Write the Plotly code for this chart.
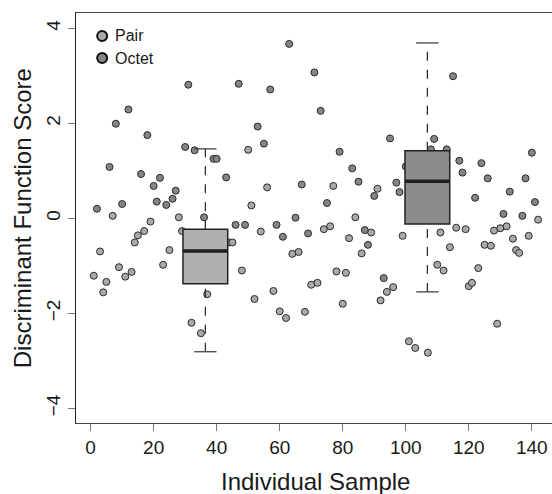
import plotly.graph_objects as go

# Sample index and discriminant score for each individual
sample_idx = [1, 2, 3, 4, 5, 6, 7, 8, 9, 10, 11, 12, 13, 14, 15, 16, 17, 18, 19, 20,
              21, 22, 23, 24, 25, 26, 27, 28, 29, 30, 31, 32, 33, 35, 36, 37, 39, 40, 43, 44,
              45, 46, 47, 48, 49, 50, 51, 52, 53, 54, 55, 56, 57, 58, 59, 60, 61, 62, 63, 64,
              65, 66, 67, 68, 69, 70, 71, 72, 73, 74, 75, 76, 77, 78, 79, 80, 81, 82, 83, 84,
              85, 86, 87, 88, 89, 90, 91, 92, 93, 94, 95, 96, 97, 98, 99, 100, 101, 103, 107, 108,
              109, 110, 111, 112, 113, 114, 115, 116, 117, 118, 119, 120, 121, 122, 123, 124, 125, 126, 127, 128,
              129, 130, 131, 132, 133, 134, 135, 136, 137, 138, 139, 140, 141, 142]
scores = [-1.21, 0.20, -0.70, -1.56, -1.34, 1.08, 0.05, 1.99, -1.03, 0.30, -1.23, 2.29, -1.13, -0.51, -0.36, 0.93, -0.27, 1.75, -0.07, 0.68,
          0.35, 0.85, -0.98, 0.28, -0.67, 0.41, 0.58, 0.02, -0.27, 1.50, 2.81, -2.20, 1.43, -2.42, 0.02, -1.60, 1.25, 1.25, 0.86, -0.51,
          -0.51, -0.14, 2.83, -1.10, -0.14, 1.44, 0.27, -1.70, 1.93, -0.28, 1.57, 0.65, 2.71, -1.53, -0.14, -1.96, -0.39, -2.10, 3.67, -0.75,
          0.01, -0.71, 0.71, -1.97, -0.32, -1.40, 3.07, -1.36, 2.26, -0.23, 0.32, -0.17, 0.68, -1.12, 1.40, -1.80, -1.15, -0.42, 1.05, 0.02,
          0.77, -0.74, -0.25, -0.56, -0.30, 0.47, 0.62, -1.73, -1.26, -1.55, 1.68, -1.45, 0.75, 0.55, -0.37, 1.09, -2.59, -2.73, -2.83, 1.45,
          1.67, -0.98, -0.30, -1.10, 1.45, -0.61, 2.99, -0.20, 1.21, 0.96, -0.23, -1.43, -1.36, 0.43, -1.05, 1.16, -0.56, 0.84, -0.58, -0.26,
          -2.22, -0.21, 0.09, -0.17, 0.56, -0.43, -0.67, -0.73, 0.05, 0.84, -0.37, 1.38, 0.34, -0.03]
# Group of each individual
groups = ["Pair", "Octet", "Pair", "Pair", "Pair", "Octet", "Pair", "Octet", "Pair", "Octet", "Pair", "Octet", "Pair", "Pair", "Pair", "Octet", "Pair", "Octet", "Pair", "Octet",
          "Octet", "Octet", "Pair", "Octet", "Pair", "Octet", "Octet", "Pair", "Pair", "Octet", "Octet", "Pair", "Octet", "Pair", "Octet", "Pair", "Octet", "Octet", "Octet", "Pair",
          "Pair", "Octet", "Octet", "Pair", "Octet", "Pair", "Pair", "Pair", "Octet", "Pair", "Octet", "Pair", "Octet", "Pair", "Octet", "Pair", "Octet", "Pair", "Octet", "Pair",
          "Octet", "Pair", "Octet", "Pair", "Octet", "Pair", "Octet", "Pair", "Octet", "Pair", "Octet", "Pair", "Pair", "Pair", "Octet", "Pair", "Pair", "Pair", "Octet", "Pair",
          "Octet", "Pair", "Octet", "Octet", "Pair", "Octet", "Pair", "Pair", "Octet", "Pair", "Octet", "Pair", "Octet", "Octet", "Pair", "Octet", "Pair", "Pair", "Pair", "Octet",
          "Octet", "Pair", "Pair", "Pair", "Octet", "Pair", "Octet", "Pair", "Octet", "Octet", "Pair", "Pair", "Pair", "Octet", "Pair", "Octet", "Pair", "Octet", "Pair", "Pair",
          "Pair", "Pair", "Octet", "Pair", "Octet", "Pair", "Pair", "Pair", "Octet", "Octet", "Pair", "Octet", "Octet", "Pair"]

# Box summaries per group: position, lower whisker, Q1, median, Q3, upper whisker
box_groups = ["Pair", "Octet"]
box_pos = [36.4, 106.85]
box_low = [-2.81, -1.55]
box_q1 = [-1.38, -0.12]
box_med = [-0.69, 0.78]
box_q3 = [-0.23, 1.42]
box_high = [1.46, 3.69]

x_ticks = [0, 20, 40, 60, 80, 100, 120, 140]
y_ticks = [-4, -2, 0, 2, 4]

fill = {"Pair": "#a9a9a9", "Octet": "#858585"}
box_fill = {"Pair": "#b0b0b0", "Octet": "#8c8c8c"}
FONT = "Liberation Sans, Arial, Helvetica, sans-serif"

fig = go.Figure()

for g in box_groups:
    xs = [x for x, gg in zip(sample_idx, groups) if gg == g]
    ys = [y for y, gg in zip(scores, groups) if gg == g]
    fig.add_trace(go.Scatter(
        x=xs, y=ys, mode="markers", name=g, showlegend=False,
        marker=dict(size=7, color=fill[g], line=dict(color="#2a2a2a", width=1)),
    ))

# boxes drawn over the points
half_w = 7.1
for i, g in enumerate(box_groups):
    c = box_pos[i]
    fig.add_shape(type="line", x0=c, x1=c, y0=box_low[i], y1=box_q1[i],
                  line=dict(color="#222222", width=1.2, dash="dash"))
    fig.add_shape(type="line", x0=c, x1=c, y0=box_q3[i], y1=box_high[i],
                  line=dict(color="#222222", width=1.2, dash="dash"))
    for yv in (box_low[i], box_high[i]):
        fig.add_shape(type="line", x0=c - half_w / 2, x1=c + half_w / 2, y0=yv, y1=yv,
                      line=dict(color="#444444", width=1.3))
    fig.add_shape(type="rect", x0=c - half_w, x1=c + half_w, y0=box_q1[i], y1=box_q3[i],
                  fillcolor=box_fill[g], line=dict(color="#222222", width=1.5))
    fig.add_shape(type="line", x0=c - half_w, x1=c + half_w, y0=box_med[i], y1=box_med[i],
                  line=dict(color="#1e1e1e", width=3.5))

# key in the upper-left corner of the plot
key_top = 0.944
key_step = 0.054
for i, g in enumerate(box_groups):
    yk = key_top - i * key_step
    fig.add_shape(type="circle", xref="paper", yref="paper",
                  xsizemode="pixel", ysizemode="pixel",
                  xanchor=0.055, yanchor=yk, x0=-5, x1=5, y0=-5, y1=5,
                  fillcolor=fill[g], line=dict(color="#111111", width=2))
    fig.add_annotation(text=g, xref="paper", yref="paper", x=0.055, y=yk,
                       xshift=11, xanchor="left", yanchor="middle", showarrow=False,
                       font=dict(family=FONT, size=16, color="#1a1a1a"))

fig.add_annotation(text="Individual Sample", xref="x", yref="paper",
                   x=(-4.64 + 147.64) / 2, y=0, yshift=-58, yanchor="middle",
                   showarrow=False, font=dict(family=FONT, size=24, color="#1a1a1a"))
fig.add_annotation(text="Discriminant Function Score", xref="paper", yref="y",
                   x=0, y=0, xshift=-54, textangle=-90, xanchor="center",
                   showarrow=False, font=dict(family=FONT, size=24, color="#1a1a1a"))

fig.update_layout(
    width=552, height=494,
    margin=dict(l=76, r=0, t=13, b=71),
    paper_bgcolor="white", plot_bgcolor="white",
    font=dict(family=FONT, size=18, color="#1a1a1a"),
    showlegend=False,
    xaxis=dict(range=[-4.64, 146.4], tickvals=x_ticks, showgrid=False, zeroline=False,
               showline=True, linecolor="#444444", linewidth=1.2, mirror=True,
               ticks="outside", ticklen=7, tickcolor="#777777", tickwidth=1.2,
               tickfont=dict(size=19)),
    yaxis=dict(range=[-4.31, 4.32], tickvals=y_ticks, showgrid=False, zeroline=False,
               showline=True, linecolor="#222222", linewidth=1.2,
               ticks="outside", ticklen=7, tickcolor="#777777", tickwidth=1.2,
               tickangle=-90, tickfont=dict(size=19)),
)

fig.write_html("out.html")
